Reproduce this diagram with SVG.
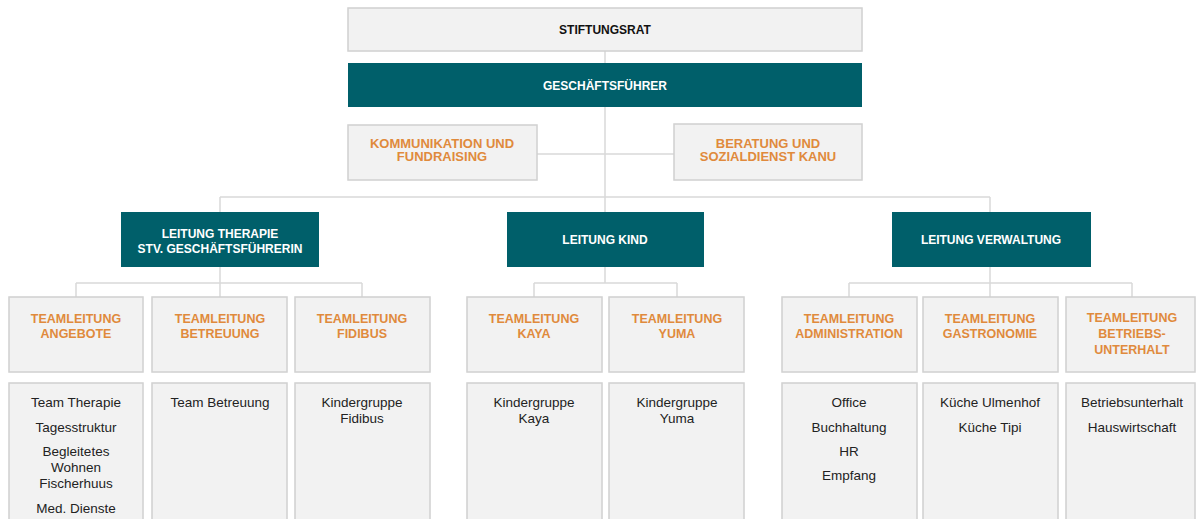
<svg xmlns="http://www.w3.org/2000/svg" width="1196" height="519" viewBox="0 0 1196 519">
<style>
.bg{fill:#ffffff}
.box{fill:#f2f2f2;stroke:#d0d0d0;stroke-width:1.5}
.dark{fill:#005f6a}
.conn{fill:none;stroke:#d9d9d9;stroke-width:1.5}
text{font-family:"Liberation Sans",Arial,sans-serif;text-anchor:middle}
.t-black{font-weight:bold;font-size:12px;fill:#111111}
.t-white{font-weight:bold;font-size:12px;fill:#ffffff}
.t-orange{font-weight:bold;font-size:12.5px;fill:#e08a3c}
.t-orange2{font-weight:bold;font-size:13px;fill:#e08a3c}
.t-body{font-size:13.5px;fill:#222222}
</style>
<rect class="bg" x="0" y="0" width="1196" height="519"/>
<g id="connectors">
<path class="conn" d="M605,51 V63 M605,107 V212 M537,154 H674 M220,197 H990 M220,197 V212 M990,197 V212"/>
<path class="conn" d="M220,267 V283 M76,283 H362 M76,283 V297 M220,283 V297 M362,283 V297"/>
<path class="conn" d="M605,267 V283 M534,283 H677 M534,283 V297 M677,283 V297"/>
<path class="conn" d="M990,267 V283 M849,283 H1132 M849,283 V297 M990,283 V297 M1132,283 V297"/>
</g>
<g id="stiftungsrat"><rect class="box" x="348" y="8" width="514" height="43"/><text class="t-black" x="605" y="34">STIFTUNGSRAT</text></g>
<g id="geschaeftsfuehrer"><rect class="dark" x="348" y="63" width="514" height="44"/><text class="t-white" x="605" y="90">GESCHÄFTSFÜHRER</text></g>
<g id="kommunikation"><rect class="box" x="348" y="125" width="189" height="55"/><text class="t-orange2" x="442" y="148">KOMMUNIKATION UND</text><text class="t-orange2" x="442" y="161">FUNDRAISING</text></g>
<g id="beratung"><rect class="box" x="674" y="124" width="188" height="56"/><text class="t-orange2" x="768" y="148">BERATUNG UND</text><text class="t-orange2" x="768" y="161">SOZIALDIENST KANU</text></g>
<g id="leitung-therapie"><rect class="dark" x="121" y="212" width="198" height="55"/><text class="t-white" x="220" y="238">LEITUNG THERAPIE</text><text class="t-white" x="220" y="253">STV. GESCHÄFTSFÜHRERIN</text></g>
<g id="leitung-kind"><rect class="dark" x="507" y="212" width="197" height="55"/><text class="t-white" x="605" y="244">LEITUNG KIND</text></g>
<g id="leitung-verwaltung"><rect class="dark" x="892" y="212" width="199" height="55"/><text class="t-white" x="991" y="244">LEITUNG VERWALTUNG</text></g>
<g id="tl-angebote"><rect class="box" x="9" y="297" width="134" height="75"/><text class="t-orange" x="76" y="323">TEAMLEITUNG</text><text class="t-orange" x="76" y="338">ANGEBOTE</text></g>
<g id="tl-betreuung"><rect class="box" x="152" y="297" width="135" height="75"/><text class="t-orange" x="220" y="323">TEAMLEITUNG</text><text class="t-orange" x="220" y="338">BETREUUNG</text></g>
<g id="tl-fidibus"><rect class="box" x="295" y="297" width="135" height="75"/><text class="t-orange" x="362" y="323">TEAMLEITUNG</text><text class="t-orange" x="362" y="338">FIDIBUS</text></g>
<g id="tl-kaya"><rect class="box" x="467" y="297" width="135" height="75"/><text class="t-orange" x="534" y="323">TEAMLEITUNG</text><text class="t-orange" x="534" y="338">KAYA</text></g>
<g id="tl-yuma"><rect class="box" x="609" y="297" width="135" height="75"/><text class="t-orange" x="677" y="323">TEAMLEITUNG</text><text class="t-orange" x="677" y="338">YUMA</text></g>
<g id="tl-administration"><rect class="box" x="782" y="297" width="135" height="75"/><text class="t-orange" x="849" y="323">TEAMLEITUNG</text><text class="t-orange" x="849" y="338">ADMINISTRATION</text></g>
<g id="tl-gastronomie"><rect class="box" x="923" y="297" width="135" height="75"/><text class="t-orange" x="990" y="323">TEAMLEITUNG</text><text class="t-orange" x="990" y="338">GASTRONOMIE</text></g>
<g id="tl-betriebsunterhalt"><rect class="box" x="1066" y="297" width="129" height="75"/><text class="t-orange" x="1132" y="322">TEAMLEITUNG</text><text class="t-orange" x="1132" y="338">BETRIEBS-</text><text class="t-orange" x="1132" y="354">UNTERHALT</text></g>
<g id="team-angebote"><rect class="box" x="9" y="383" width="134" height="145"/><text class="t-body" x="76" y="407">Team Therapie</text><text class="t-body" x="76" y="432">Tagesstruktur</text><text class="t-body" x="76" y="456">Begleitetes</text><text class="t-body" x="76" y="472">Wohnen</text><text class="t-body" x="76" y="488">Fischerhuus</text><text class="t-body" x="76" y="513">Med. Dienste</text></g>
<g id="team-betreuung"><rect class="box" x="152" y="383" width="135" height="145"/><text class="t-body" x="220" y="407">Team Betreuung</text></g>
<g id="team-fidibus"><rect class="box" x="295" y="383" width="135" height="145"/><text class="t-body" x="362" y="407">Kindergruppe</text><text class="t-body" x="362" y="423">Fidibus</text></g>
<g id="team-kaya"><rect class="box" x="467" y="383" width="135" height="145"/><text class="t-body" x="534" y="407">Kindergruppe</text><text class="t-body" x="534" y="423">Kaya</text></g>
<g id="team-yuma"><rect class="box" x="609" y="383" width="135" height="145"/><text class="t-body" x="677" y="407">Kindergruppe</text><text class="t-body" x="677" y="423">Yuma</text></g>
<g id="team-administration"><rect class="box" x="782" y="383" width="135" height="145"/><text class="t-body" x="849" y="407">Office</text><text class="t-body" x="849" y="432">Buchhaltung</text><text class="t-body" x="849" y="456">HR</text><text class="t-body" x="849" y="480">Empfang</text></g>
<g id="team-gastronomie"><rect class="box" x="923" y="383" width="135" height="145"/><text class="t-body" x="990" y="407">Küche Ulmenhof</text><text class="t-body" x="990" y="432">Küche Tipi</text></g>
<g id="team-betriebsunterhalt"><rect class="box" x="1066" y="383" width="129" height="145"/><text class="t-body" x="1132" y="407">Betriebsunterhalt</text><text class="t-body" x="1132" y="432">Hauswirtschaft</text></g>
</svg>
